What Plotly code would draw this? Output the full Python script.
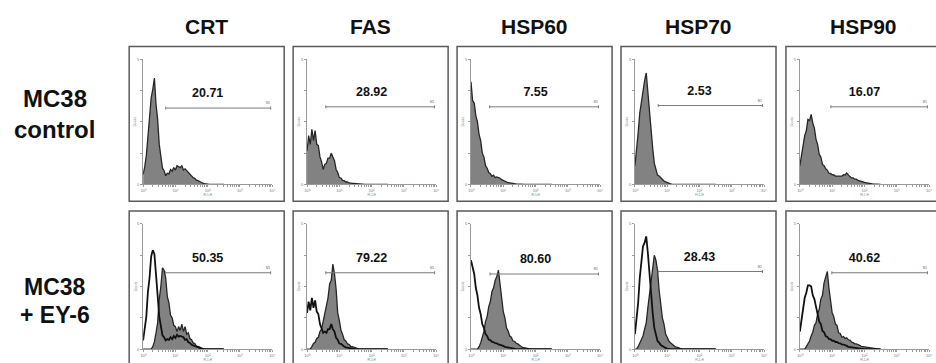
import plotly.graph_objects as go

# ---------------- data ----------------
markers = ["CRT", "FAS", "HSP60", "HSP70", "HSP90"]
row_label_lines = [["MC38", "control"], ["MC38", "+ EY-6"]]
pct_control = ["20.71", "28.92", "7.55", "2.53", "16.07"]
pct_ey6 = ["50.35", "79.22", "80.60", "28.43", "40.62"]

# gate (M1) start in log10 FL1-H units, and height as fraction of count axis
gate_start_control = [0.70, 0.58, 0.58, 0.72, 0.96]
gate_start_ey6 = [0.70, 0.58, 0.59, 0.72, 0.99]
gate_level_control = [0.61, 0.62, 0.62, 0.63, 0.62]
gate_level_ey6 = [0.61, 0.61, 0.60, 0.62, 0.61]
gate_end = 3.95
label_pos = 2.0

# histogram channels (log10 FL1-H), 0.05 decade bins
bin_log = [round(0.05 * i, 2) for i in range(51)]

# relative counts (1.0 = top of count axis)
crt_control = [0.08, 0.14, 0.23, 0.40, 0.50, 0.69, 0.76, 0.85, 0.64, 0.52, 0.32, 0.23, 0.13, 0.11, 0.07,
               0.09, 0.085, 0.12, 0.105, 0.135, 0.115, 0.15, 0.14, 0.135, 0.15, 0.115, 0.125, 0.11, 0.095,
               0.08, 0.07, 0.055, 0.05, 0.035, 0.03, 0.022, 0.018, 0.01, 0.006, 0.002, 0]
crt_ey6_open = [0.07, 0.15, 0.26, 0.46, 0.57, 0.74, 0.79, 0.76, 0.55, 0.43, 0.26, 0.19, 0.11, 0.095, 0.07,
                0.08, 0.075, 0.095, 0.08, 0.105, 0.09, 0.115, 0.10, 0.105, 0.10, 0.095, 0.075, 0.08, 0.055,
                0.05, 0.035, 0.03, 0.02, 0.015, 0.01, 0.005, 0]
crt_ey6 = [0, 0, 0, 0, 0, 0, 0.02, 0.06, 0.13, 0.21, 0.40, 0.50, 0.65, 0.63, 0.57, 0.42, 0.37, 0.27, 0.25,
           0.19, 0.18, 0.14, 0.18, 0.15, 0.20, 0.14, 0.18, 0.12, 0.13, 0.085, 0.075, 0.05, 0.045, 0.025,
           0.022, 0.013, 0.01, 0.005, 0]

fas_control = [0.27, 0.39, 0.32, 0.44, 0.35, 0.43, 0.32, 0.31, 0.22, 0.18, 0.12, 0.16, 0.17, 0.21, 0.21,
               0.25, 0.22, 0.19, 0.12, 0.095, 0.055, 0.052, 0.033, 0.031, 0.02, 0.021, 0.012, 0.013, 0.009,
               0.008, 0.006, 0.005, 0.003, 0.002, 0]
fas_ey6_open = [0.29, 0.38, 0.31, 0.41, 0.33, 0.39, 0.30, 0.28, 0.20, 0.17, 0.13, 0.14, 0.13, 0.16, 0.16,
                0.20, 0.16, 0.14, 0.09, 0.075, 0.045, 0.042, 0.028, 0.021, 0.014, 0.011, 0.007, 0.005, 0]
fas_ey6 = [0, 0, 0, 0.02, 0.045, 0.055, 0.085, 0.095, 0.14, 0.16, 0.23, 0.27, 0.35, 0.41, 0.52, 0.55, 0.68,
           0.60, 0.48, 0.29, 0.23, 0.15, 0.12, 0.075, 0.065, 0.042, 0.038, 0.023, 0.021, 0.014, 0.011,
           0.006, 0.003, 0.002, 0]

hsp60_control = [0.82, 0.67, 0.65, 0.55, 0.50, 0.40, 0.35, 0.25, 0.22, 0.15, 0.13, 0.095, 0.085, 0.065,
                 0.075, 0.055, 0.06, 0.055, 0.05, 0.038, 0.032, 0.024, 0.021, 0.014, 0.013, 0.009, 0.008,
                 0.006, 0.004, 0.002, 0]
hsp60_ey6_open = [0.71, 0.65, 0.60, 0.49, 0.43, 0.33, 0.28, 0.20, 0.17, 0.12, 0.105, 0.075, 0.072, 0.058,
                  0.057, 0.048, 0.047, 0.038, 0.036, 0.028, 0.026, 0.019, 0.016, 0.011, 0.01, 0.007, 0.005,
                  0.003, 0]
hsp60_ey6 = [0, 0, 0, 0, 0, 0.02, 0.05, 0.095, 0.14, 0.22, 0.26, 0.34, 0.38, 0.46, 0.49, 0.55, 0.58, 0.63,
             0.51, 0.41, 0.30, 0.25, 0.17, 0.145, 0.105, 0.095, 0.065, 0.062, 0.047, 0.042, 0.028, 0.021,
             0.014, 0.011, 0.005, 0.002, 0]

hsp70_control = [0.15, 0.27, 0.41, 0.57, 0.66, 0.78, 0.83, 0.89, 0.73, 0.57, 0.39, 0.29, 0.17, 0.12, 0.075,
                 0.068, 0.052, 0.042, 0.028, 0.021, 0.014, 0.01, 0.005, 0]
hsp70_ey6_open = [0.12, 0.23, 0.37, 0.57, 0.68, 0.82, 0.85, 0.90, 0.77, 0.61, 0.41, 0.29, 0.17, 0.115,
                  0.065, 0.052, 0.033, 0.026, 0.014, 0.01, 0.005, 0]
hsp70_ey6 = [0, 0, 0.02, 0.05, 0.085, 0.105, 0.16, 0.21, 0.33, 0.43, 0.57, 0.65, 0.75, 0.71, 0.63, 0.47,
             0.37, 0.25, 0.20, 0.12, 0.095, 0.065, 0.052, 0.038, 0.031, 0.019, 0.016, 0.009, 0.006, 0.003, 0]

hsp90_control = [0.15, 0.23, 0.29, 0.39, 0.43, 0.52, 0.51, 0.56, 0.49, 0.45, 0.36, 0.32, 0.24, 0.22, 0.16,
                 0.15, 0.125, 0.115, 0.09, 0.088, 0.077, 0.078, 0.067, 0.068, 0.066, 0.07, 0.066, 0.078,
                 0.076, 0.092, 0.072, 0.063, 0.052, 0.053, 0.042, 0.042, 0.033, 0.031, 0.024, 0.021, 0.016,
                 0.015, 0.01, 0.009, 0.007, 0.005, 0.004, 0.003, 0.002, 0.001, 0]
hsp90_ey6_open = [0.14, 0.23, 0.31, 0.41, 0.45, 0.51, 0.51, 0.50, 0.43, 0.40, 0.34, 0.29, 0.22, 0.20,
                  0.145, 0.135, 0.105, 0.098, 0.082, 0.078, 0.067, 0.068, 0.057, 0.057, 0.048, 0.047, 0.038,
                  0.037, 0.028, 0.026, 0.019, 0.017, 0.012, 0.011, 0.007, 0.006, 0.004, 0.002, 0]
hsp90_ey6 = [0, 0, 0, 0, 0.02, 0.045, 0.065, 0.105, 0.135, 0.19, 0.21, 0.28, 0.32, 0.40, 0.43, 0.53, 0.57,
             0.62, 0.49, 0.39, 0.29, 0.26, 0.20, 0.19, 0.13, 0.125, 0.095, 0.10, 0.085, 0.09, 0.075, 0.072,
             0.057, 0.052, 0.043, 0.042, 0.033, 0.031, 0.023, 0.021, 0.016, 0.015, 0.01, 0.009, 0.005,
             0.004, 0.003, 0.002, 0.001, 0]

filled_control = [crt_control, fas_control, hsp60_control, hsp70_control, hsp90_control]
filled_ey6 = [crt_ey6, fas_ey6, hsp60_ey6, hsp70_ey6, hsp90_ey6]
open_ey6 = [crt_ey6_open, fas_ey6_open, hsp60_ey6_open, hsp70_ey6_open, hsp90_ey6_open]

x_tick_text = ["10⁰", "10¹", "10²", "10³", "10⁴"]

# ---------------- layout geometry (pixels) ----------------
W, H = 936, 363
box_left = [127, 292, 457, 622, 788]
box_top = [44, 211]
box_w, box_h = 156, 157
plot_dx, plot_w = 14, 130
plot_dy, plot_h = 13, 127

FONT = "Liberation Sans, Arial, sans-serif"
FILL = "#828282"
OUTLINE = "#262626"


def pad(v):
    return list(v) + [0] * (len(bin_log) - len(v))


chan = [10 ** b for b in bin_log]
minor_vals = [m * 10 ** d for d in range(4) for m in range(2, 10)]

fig = go.Figure()
layout_axes = {}

for r in range(2):
    for c in range(5):
        n = r * 5 + c + 1
        xa = "x" if n == 1 else f"x{n}"
        ya = "y" if n == 1 else f"y{n}"
        sfx = "" if n == 1 else str(n)
        px0 = box_left[c] + plot_dx
        py0 = box_top[r] + plot_dy
        layout_axes["xaxis" + sfx] = dict(
            domain=[px0 / W, (px0 + plot_w) / W], anchor=ya, type="log", range=[0, 4],
            showline=True, linecolor="#9a9a9a", linewidth=1, showgrid=False, zeroline=False,
            ticks="outside", ticklen=2, tickcolor="#9a9a9a", tickwidth=1,
            tickvals=[1, 10, 100, 1000, 10000], ticktext=x_tick_text,
            tickfont=dict(size=4, color="#777", family=FONT),
            minor=dict(tickvals=minor_vals, ticks="outside", ticklen=1.5, tickcolor="#9a9a9a", showgrid=False),
            title=dict(text="FL1-H", font=dict(size=3, color="#777", family=FONT), standoff=0),
            fixedrange=True,
        )
        layout_axes["yaxis" + sfx] = dict(
            domain=[1 - (py0 + plot_h) / H, 1 - py0 / H], anchor=xa, range=[0, 1],
            showline=True, linecolor="#9a9a9a", linewidth=1, showgrid=False, zeroline=False,
            ticks="outside", ticklen=2, tickcolor="#9a9a9a",
            tickvals=[0, 0.25, 0.5, 0.75, 1], ticktext=["0", "", "", "", "5"],
            tickfont=dict(size=4, color="#777", family=FONT),
            title=dict(text="Counts", font=dict(size=3, color="#777", family=FONT), standoff=0),
            fixedrange=True,
        )

        filled = filled_control[c] if r == 0 else filled_ey6[c]
        fig.add_trace(go.Scatter(
            x=chan, y=pad(filled), xaxis=xa, yaxis=ya, mode="lines",
            fill="tozeroy", fillcolor=FILL, line=dict(color=OUTLINE, width=1.3),
            showlegend=False, hoverinfo="skip"))
        if r == 1:
            fig.add_trace(go.Scatter(
                x=chan, y=pad(open_ey6[c]), xaxis=xa, yaxis=ya, mode="lines",
                line=dict(color="#111", width=1.8), showlegend=False, hoverinfo="skip"))

        gs = gate_start_control[c] if r == 0 else gate_start_ey6[c]
        gl = gate_level_control[c] if r == 0 else gate_level_ey6[c]
        pct = pct_control[c] if r == 0 else pct_ey6[c]
        fig.add_trace(go.Scatter(
            x=[10 ** gs, 10 ** gate_end, None, 10 ** gs, 10 ** gs, None, 10 ** gate_end, 10 ** gate_end],
            y=[gl, gl, None, gl - 0.012, gl + 0.012, None, gl - 0.012, gl + 0.012],
            xaxis=xa, yaxis=ya, mode="lines", line=dict(color="#7a7a7a", width=1),
            showlegend=False, hoverinfo="skip"))
        fig.add_trace(go.Scatter(
            x=[10 ** (gate_end - 0.08)], y=[gl + 0.035], xaxis=xa, yaxis=ya, mode="text",
            text=["M1"], textfont=dict(size=3, color="#666", family=FONT),
            showlegend=False, hoverinfo="skip"))
        fig.add_trace(go.Scatter(
            x=[10 ** label_pos], y=[gl + 0.11], xaxis=xa, yaxis=ya, mode="text",
            text=[f"<b>{pct}</b>"], textfont=dict(size=12.5, color="#111", family=FONT),
            showlegend=False, hoverinfo="skip", cliponaxis=False))

shapes = []
for r in range(2):
    for c in range(5):
        shapes.append(dict(
            type="rect", xref="paper", yref="paper",
            x0=box_left[c] / W, x1=(box_left[c] + box_w) / W,
            y0=1 - (box_top[r] + box_h) / H, y1=1 - box_top[r] / H,
            line=dict(color="#5a5a5a", width=1.5), fillcolor="rgba(0,0,0,0)", layer="below"))

annotations = []
for c, m in enumerate(markers):
    annotations.append(dict(
        x=(box_left[c] + box_w / 2) / W, y=1 - 24 / H, xref="paper", yref="paper",
        text=f"<b>{m}</b>", showarrow=False, xanchor="center", yanchor="middle",
        font=dict(size=21, color="#111", family=FONT)))

row_line_y = [[97, 128], [288, 316]]
row_font = [24, 23]
for r in range(2):
    for j, line in enumerate(row_label_lines[r]):
        annotations.append(dict(
            x=52 / W, y=1 - row_line_y[r][j] / H, xref="paper", yref="paper",
            text=f"<b>{line}</b>", showarrow=False, xanchor="center", yanchor="middle",
            font=dict(size=row_font[r], color="#111", family=FONT)))

fig.update_layout(
    width=W, height=H, margin=dict(l=0, r=0, t=0, b=0),
    paper_bgcolor="white", plot_bgcolor="white",
    shapes=shapes, annotations=annotations, showlegend=False,
    **layout_axes)

fig.write_html("out.html", config={"displayModeBar": False},
               post_script="document.body.style.margin='0';document.body.style.overflow='hidden';")
